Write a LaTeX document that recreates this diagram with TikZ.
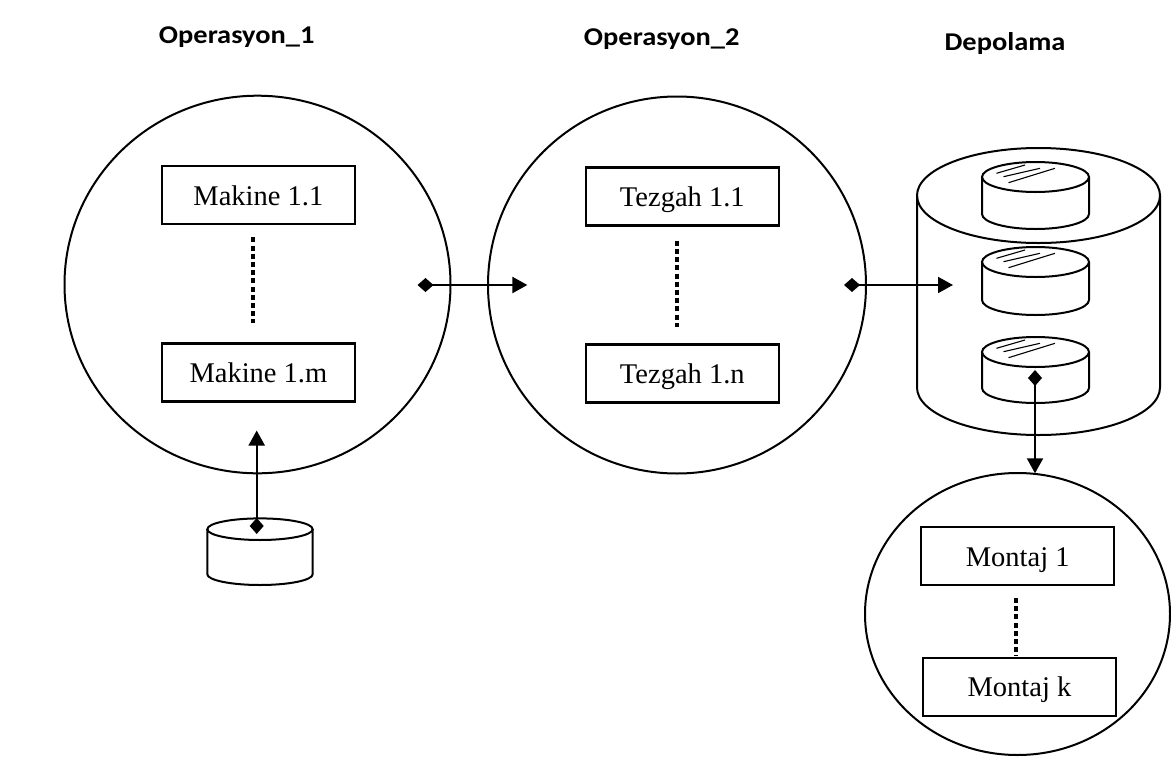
\documentclass[tikz,border=0pt]{standalone}
\usepackage{fontspec}
\setmainfont{Liberation Serif}
\newfontfamily\titlefont{Carlito}[FakeStretch=1.11]
\usetikzlibrary{arrows.meta}
\begin{document}
\begin{tikzpicture}[x=1pt,y=-1pt,
  boxnode/.style={draw,line width=2.2pt,fill=white,rectangle,minimum width=193pt,minimum height=58pt,
    text height=20pt,text depth=0pt,inner sep=0pt,font=\fontsize{28.5}{30}\selectfont},
  titlenode/.style={anchor=base,inner sep=0pt,font=\titlefont\bfseries\fontsize{25.6}{28}\selectfont},
  ring/.style={draw,line width=2pt},
  dotline/.style={line width=4pt,dash pattern=on 5pt off 3.2pt},
  conn/.style={line width=2pt,{Diamond[length=16pt,width=14pt]}-{Triangle[length=15pt,width=16pt]}},
  hatch/.style={line width=1.1pt}
]
\useasboundingbox (0,0) rectangle (1171,758);
% titles
\node[titlenode] (t1) at (236.7,43.3) {Operasyon\_1};
\node[titlenode] (t2) at (661.7,45) {Operasyon\_2};
\node[titlenode] (t3) at (1005,50) {Depolama};
% operation circles
\draw[ring] (257.5,284.5) ellipse [x radius=193pt, y radius=188.8pt];
\coordinate (op1) at (257.5,284.5);
\draw[ring] (677,285) ellipse [x radius=189pt, y radius=188.5pt];
\coordinate (op2) at (677,285);
\draw[ring] (1017.5,614) ellipse [x radius=152.5pt, y radius=141pt];
\coordinate (op3) at (1017.5,614);
% boxes
\node[boxnode] (m1) at (258.4,195) {Makine 1.1};
\node[boxnode] (mm) at (258.4,372.5) {Makine 1.m};
\node[boxnode] (z1) at (682.3,196.5) {Tezgah 1.1};
\node[boxnode] (zn) at (682.3,373.4) {Tezgah 1.n};
\node[boxnode] (k1) at (1017.7,556.2) {Montaj 1};
\node[boxnode] (kk) at (1019.5,686.7) {Montaj k};
% dotted connections
\coordinate (d1a) at (253.3,237.3); \coordinate (d1b) at (253.3,323.3);
\draw[dotline] (d1a) -- (d1b);
\coordinate (d2a) at (677.2,240.7); \coordinate (d2b) at (677.2,326.7);
\draw[dotline] (d2a) -- (d2b);
\coordinate (d3a) at (1016,598); \coordinate (d3b) at (1016,656);
\draw[dotline] (d3a) -- (d3b);
% storage cylinder
\draw[ring] (1038.5,195.5) ellipse [x radius=121.5pt, y radius=47.5pt];
\draw[ring] (917,195.5) -- (917,387.5) arc[start angle=180,end angle=360,x radius=121.5pt,y radius=47.5pt] -- (1160,195.5);
% disks in storage
\foreach \t/\b [count=\i] in {177/214, 262/300, 352/388}{
  \draw[ring,fill=white] (982,\t) -- (982,\b) arc[start angle=180,end angle=360,x radius=53.5pt,y radius=15pt] -- (1089,\t);
  \draw[ring] (1035.5,\t) ellipse [x radius=53.5pt, y radius=15pt];
  \draw[hatch] (1035.5-39,\t-3.7) -- (1035.5-10.5,\t-12);
  \draw[hatch] (1035.5-32,\t-0.3) -- (1035.5+4.5,\t-8.7);
  \draw[hatch] (1035.5-27,\t+5.7) -- (1035.5+19.5,\t-8.7);
}
\coordinate (disk3) at (1035.5,352);
% small source cylinder
\draw[ring,fill=white] (207.3,529.2) -- (207.3,574.2) arc[start angle=180,end angle=360,x radius=52.7pt,y radius=10.8pt] -- (312.7,529.2);
\draw[ring] (260,529.2) ellipse [x radius=52.7pt, y radius=10.8pt];
\coordinate (src) at (260,529.2);
% connectors
\coordinate (a1s) at (417.5,285); \coordinate (a1e) at (527.4,285);
\draw[conn] (a1s) -- (a1e);
\coordinate (a2s) at (844,285); \coordinate (a2e) at (953,285);
\draw[conn] (a2s) -- (a2e);
\coordinate (a3s) at (256.7,534); \coordinate (a3e) at (256.7,430.5);
\draw[conn] (a3s) -- (a3e);
\coordinate (a4s) at (1035,370); \coordinate (a4e) at (1035,473.3);
\draw[conn] (a4s) -- (a4e);
\end{tikzpicture}
\end{document}
